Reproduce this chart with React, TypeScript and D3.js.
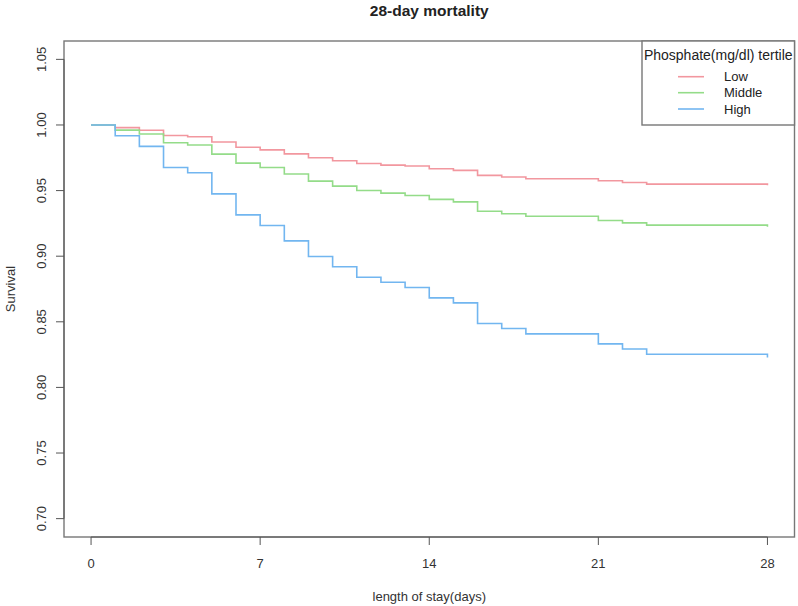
import React from "react";
import * as d3 from "d3";

const days = [0, 1, 2, 3, 4, 5, 6, 7, 8, 9, 10, 11, 12, 13, 14, 15, 16, 17, 18, 19, 20, 21, 22, 23, 24, 25, 26, 27, 28];
const lowSurv = [1.0, 0.998, 0.996, 0.992, 0.991, 0.987, 0.983, 0.981, 0.978, 0.975, 0.9727, 0.9707, 0.9694, 0.9687, 0.9666, 0.9654, 0.9616, 0.9603, 0.959, 0.959, 0.959, 0.9575, 0.9562, 0.9549, 0.9549, 0.9549, 0.9549, 0.9549, 0.954];
const middleSurv = [1.0, 0.9961, 0.9931, 0.9864, 0.9847, 0.9778, 0.9709, 0.9676, 0.9626, 0.9572, 0.9534, 0.9501, 0.9481, 0.9463, 0.9433, 0.9414, 0.9343, 0.9323, 0.9305, 0.9305, 0.9305, 0.9272, 0.9254, 0.9237, 0.9237, 0.9237, 0.9237, 0.9237, 0.9224];
const highSurv = [1.0, 0.9918, 0.9837, 0.9676, 0.9636, 0.9475, 0.9315, 0.9234, 0.9117, 0.8998, 0.8919, 0.884, 0.8802, 0.8762, 0.8682, 0.8644, 0.8487, 0.8449, 0.8408, 0.8408, 0.8408, 0.8332, 0.8293, 0.8253, 0.8253, 0.8253, 0.8253, 0.8253, 0.8228];

const seriesNames = ["Low", "Middle", "High"];
const seriesColors = ["#F2979F", "#94DC89", "#72B6F0"];
const seriesValues = [lowSurv, middleSurv, highSurv];

const xTicks = [0, 7, 14, 21, 28];
const yTicks = [0.7, 0.75, 0.8, 0.85, 0.9, 0.95, 1.0, 1.05];

const title = "28-day mortality";
const xLabel = "length of stay(days)";
const yLabel = "Survival";
const legendTitle = "Phosphate(mg/dl) tertile";

const W = 798;
const H = 606;
const box = { left: 64, right: 794.5, top: 41, bottom: 537 };
const FONT = "'Liberation Sans', Arial, sans-serif";

export default function App() {
  const x = d3.scaleLinear().domain([-1.12, 29.12]).range([box.left, box.right]);
  const y = d3.scaleLinear().domain([0.686, 1.064]).range([box.bottom, box.top]);

  const line = d3
    .line<[number, number]>()
    .x((d) => x(d[0]))
    .y((d) => y(d[1]))
    .curve(d3.curveStepAfter);

  const axisColor = "#555";
  const legX0 = 642;
  const legY0 = box.top;
  const legY1 = 125;
  const entryY = [76.7, 92.7, 109];

  return (
    <svg
      width={W}
      height={H}
      style={{ position: "absolute", left: 0, top: 0, background: "#fff" }}
      fontFamily={FONT}
    >
      <rect x={0} y={0} width={W} height={H} fill="#fff" />
      <text x={(box.left + box.right) / 2} y={16} textAnchor="middle" fontWeight="bold" fontSize={15.5} fill="#222">
        {title}
      </text>

      {seriesValues.map((vals, i) => (
        <path
          key={seriesNames[i]}
          d={line(days.map((d, j) => [d, vals[j]] as [number, number])) || ""}
          fill="none"
          stroke={seriesColors[i]}
          strokeWidth={1.6}
        />
      ))}

      <rect
        x={box.left}
        y={box.top}
        width={box.right - box.left}
        height={box.bottom - box.top}
        fill="none"
        stroke="#777"
        strokeWidth={1.4}
      />

      <line x1={box.left} x2={box.left} y1={y(0.7)} y2={y(1.05)} stroke={axisColor} strokeWidth={1} />
      {yTicks.map((t) => (
        <g key={t}>
          <line x1={box.left - 8} x2={box.left} y1={y(t)} y2={y(t)} stroke={axisColor} strokeWidth={1} />
          <text
            transform={`translate(${41},${y(t)}) rotate(-90)`}
            textAnchor="middle"
            dominantBaseline="central"
            fontSize={13}
            fill="#333"
          >
            {t.toFixed(2)}
          </text>
        </g>
      ))}
      <text
        transform={`translate(${10},${(box.top + box.bottom) / 2}) rotate(-90)`}
        textAnchor="middle"
        dominantBaseline="central"
        fontSize={13}
        fill="#333"
      >
        {yLabel}
      </text>

      <line x1={x(0)} x2={x(28)} y1={box.bottom} y2={box.bottom} stroke={axisColor} strokeWidth={1} />
      {xTicks.map((t) => (
        <g key={t}>
          <line x1={x(t)} x2={x(t)} y1={box.bottom} y2={box.bottom + 8} stroke={axisColor} strokeWidth={1} />
          <text x={x(t)} y={563} textAnchor="middle" dominantBaseline="central" fontSize={13} fill="#333">
            {t}
          </text>
        </g>
      ))}
      <text x={(box.left + box.right) / 2} y={596} textAnchor="middle" dominantBaseline="central" fontSize={13} fill="#333">
        {xLabel}
      </text>

      <rect x={legX0} y={legY0} width={box.right - legX0} height={legY1 - legY0} fill="#fff" stroke="#777" strokeWidth={1.4} />
      <text x={(legX0 + box.right) / 2} y={55} textAnchor="middle" dominantBaseline="central" fontSize={14} fill="#222">
        {legendTitle}
      </text>
      {seriesNames.map((n, i) => (
        <g key={n}>
          <line x1={678} x2={704} y1={entryY[i]} y2={entryY[i]} stroke={seriesColors[i]} strokeWidth={1.6} />
          <text x={724} y={entryY[i]} dominantBaseline="central" fontSize={13} fill="#222">
            {n}
          </text>
        </g>
      ))}
    </svg>
  );
}
